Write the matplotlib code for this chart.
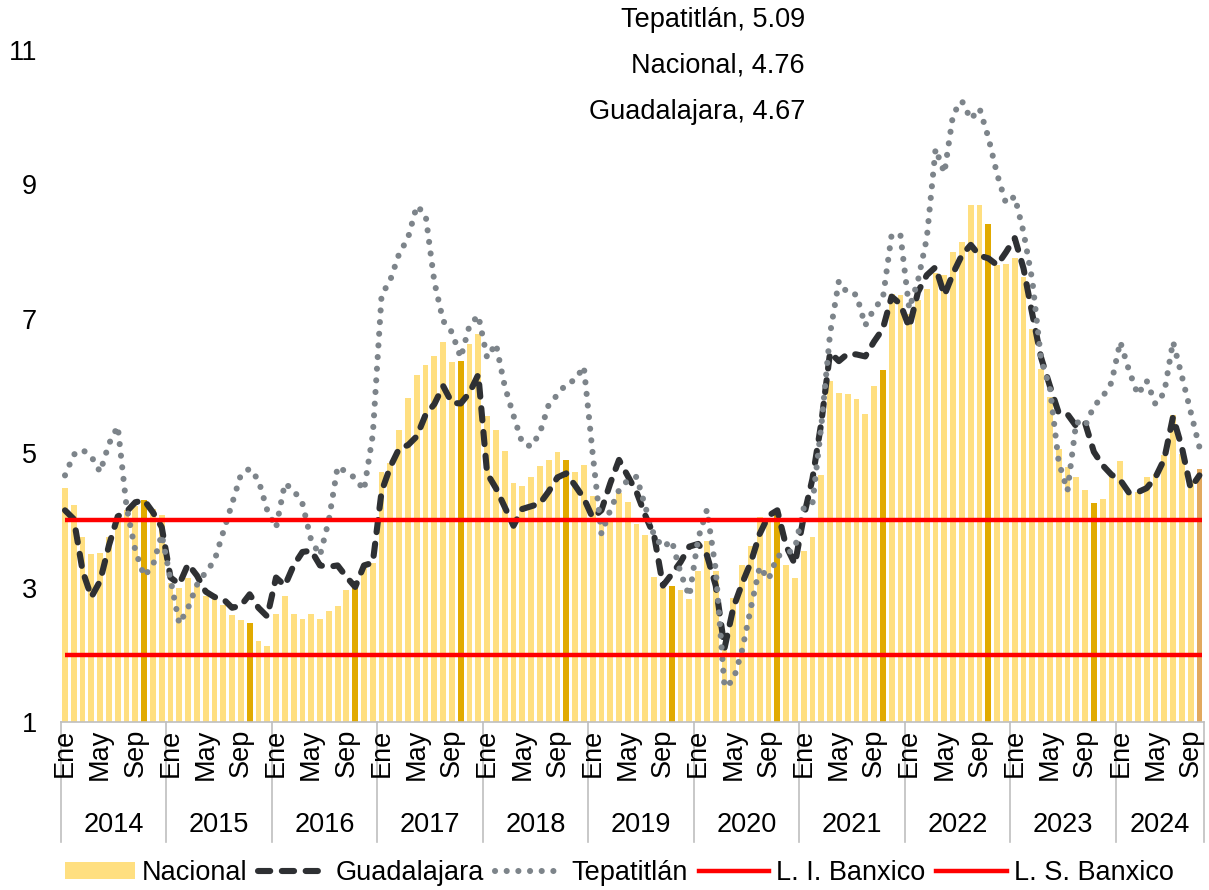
import matplotlib
matplotlib.use("Agg")
import matplotlib.pyplot as plt
from matplotlib.lines import Line2D
from matplotlib.patches import Patch
import numpy as np

plt.rcParams['font.family'] = ['Liberation Sans', 'DejaVu Sans']

years = ['2014', '2015', '2016', '2017', '2018', '2019', '2020', '2021', '2022', '2023', '2024']
month_labels = ['Ene', 'May', 'Sep']

nacional = [
    4.48, 4.23, 3.76, 3.50, 3.51, 3.75, 4.07, 4.15, 4.22, 4.30, 4.17, 4.08,
    3.07, 3.00, 3.14, 3.06, 2.88, 2.87, 2.74, 2.59, 2.52, 2.48, 2.21, 2.13,
    2.61, 2.87, 2.60, 2.54, 2.60, 2.54, 2.65, 2.73, 2.97, 3.06, 3.31, 3.36,
    4.72, 4.86, 5.35, 5.82, 6.16, 6.31, 6.44, 6.66, 6.35, 6.37, 6.63, 6.77,
    5.55, 5.34, 5.04, 4.55, 4.51, 4.65, 4.81, 4.90, 5.02, 4.90, 4.72, 4.83,
    4.37, 3.94, 4.00, 4.41, 4.28, 3.95, 3.78, 3.16, 3.00, 3.02, 2.97, 2.83,
    3.24, 3.70, 3.25, 2.15, 2.84, 3.33, 3.62, 4.05, 4.01, 4.09, 3.33, 3.15,
    3.54, 3.76, 4.67, 6.08, 5.89, 5.88, 5.81, 5.59, 6.00, 6.24, 7.37, 7.36,
    7.07, 7.28, 7.45, 7.68, 7.65, 7.99, 8.15, 8.70, 8.70, 8.41, 7.80, 7.82,
    7.91, 7.62, 6.85, 6.25, 5.84, 5.06, 4.79, 4.64, 4.45, 4.26, 4.32, 4.66,
    4.88, 4.40, 4.42, 4.65, 4.69, 4.98, 5.57, 4.99, 4.58, 4.76,
]

guadalajara = [
    4.15, 4.02, 3.25, 2.86, 3.10, 3.63, 4.06, 4.13, 4.27, 4.30, 4.12, 3.90,
    3.15, 3.05, 3.35, 3.18, 2.94, 2.86, 2.83, 2.70, 2.73, 2.90, 2.70, 2.57,
    3.15, 3.03, 3.33, 3.53, 3.55, 3.33, 3.31, 3.33, 3.16, 3.01, 3.33, 3.37,
    4.43, 4.80, 5.07, 5.12, 5.25, 5.57, 5.73, 6.00, 5.75, 5.74, 5.90, 6.17,
    4.70, 4.48, 4.20, 3.92, 4.17, 4.21, 4.25, 4.43, 4.64, 4.70, 4.52, 4.33,
    4.04, 4.15, 4.55, 4.90, 4.66, 4.42, 4.07, 3.77, 3.03, 3.20, 3.38, 3.61,
    3.65, 3.48, 3.03, 2.10, 2.70, 3.06, 3.38, 3.80, 4.07, 4.15, 3.62, 3.35,
    4.05, 4.62, 5.45, 6.50, 6.37, 6.48, 6.47, 6.44, 6.66, 6.85, 7.33, 7.22,
    6.87, 7.40, 7.65, 7.77, 7.35, 7.68, 7.95, 8.10, 7.94, 7.90, 7.80, 7.99,
    8.20, 7.75, 7.07, 6.42, 6.00, 5.60, 5.58, 5.40, 5.45, 5.02, 4.82, 4.68,
    4.60, 4.41, 4.42, 4.48, 4.64, 4.91, 5.54, 5.09, 4.48, 4.67,
]

tepatitlan = [
    4.67, 4.98, 5.05, 4.95, 4.72, 5.14, 5.40, 4.20, 3.55, 3.17, 3.33, 3.79,
    3.12, 2.46, 2.70, 3.04, 3.23, 3.40, 3.83, 4.25, 4.68, 4.77, 4.60, 4.15,
    3.89, 4.55, 4.45, 4.25, 3.70, 3.48, 4.00, 4.80, 4.72, 4.63, 4.45, 5.27,
    7.35, 7.58, 7.97, 8.20, 8.68, 8.55, 7.55, 6.97, 6.80, 6.42, 6.90, 7.05,
    6.42, 6.63, 6.00, 5.56, 5.15, 5.10, 5.30, 5.72, 5.87, 6.03, 6.09, 6.29,
    5.00, 3.80, 4.15, 4.45, 4.60, 4.65, 4.20, 3.77, 3.60, 3.70, 3.22, 2.87,
    3.73, 4.16, 3.27, 1.52, 1.62, 2.07, 2.70, 3.31, 3.12, 3.47, 3.50, 3.58,
    4.18, 4.25, 5.40, 6.78, 7.56, 7.38, 7.36, 6.90, 7.15, 7.30, 8.25, 8.25,
    7.15, 7.57, 8.20, 9.53, 9.17, 10.05, 10.24, 9.97, 10.13, 9.70, 9.15, 8.72,
    8.82, 8.29, 7.57, 6.39, 5.97, 4.87, 4.44, 5.47, 5.40, 5.70, 5.84, 6.05,
    6.66, 6.23, 5.87, 6.08, 5.73, 5.90, 6.66, 6.15, 5.62, 5.09,
]

li_banxico = 2.0
ls_banxico = 4.0
yticks = [1, 3, 5, 7, 9, 11]

labels_top = ['Tepatitlán, 5.09', 'Nacional, 4.76', 'Guadalajara, 4.67']

# ---------------- drawing ----------------
FS = 19.5
W, H = 1209, 890
fig = plt.figure(figsize=(W / 100, H / 100), dpi=100)
ax_left, ax_right = 60.6, 1203.8
ax_top, ax_bot = 50, 722
ax = fig.add_axes([ax_left / W, 1 - ax_bot / H, (ax_right - ax_left) / W, (ax_bot - ax_top) / H])

n = len(nacional)
x = np.arange(n)

light = '#FFDF80'
dark = '#E1AA00'
last = '#E2A95E'
colors = []
for i in range(n):
    if i == n - 1:
        colors.append(last)
    elif i % 12 == 9:
        colors.append(dark)
    else:
        colors.append(light)

ax.bar(x, np.array(nacional) - 1, bottom=1, width=0.66, color=colors, zorder=2)

g_style = (0, (2.0, 1.9))
t_style = (0, (0.01, 1.9))
ax.plot(x, guadalajara, color='#2E3033', lw=4.4, linestyle=g_style,
        dash_capstyle='round', solid_capstyle='round', zorder=4)
ax.plot(x, tepatitlan, color='#7D848A', lw=4.4, linestyle=t_style,
        dash_capstyle='round', zorder=5)
ax.plot([-0.05, n - 1 + 0.3], [li_banxico, li_banxico], color='#FF0000', lw=3.2, zorder=6,
        solid_capstyle='butt')
ax.plot([-0.05, n - 1 + 0.3], [ls_banxico, ls_banxico], color='#FF0000', lw=3.2, zorder=6,
        solid_capstyle='butt')

ax.set_xlim(-0.5, n - 0.5)
ax.set_ylim(1, 11)
ax.set_yticks(yticks)
ax.set_yticklabels([str(v) for v in yticks])
ax.tick_params(axis='y', length=0, pad=17, labelsize=FS)
ax.set_xticks([])
for s in ['left', 'right', 'top']:
    ax.spines[s].set_visible(False)
ax.spines['bottom'].set_color('#BFBFBF')
ax.spines['bottom'].set_linewidth(1.2)

trans = ax.get_xaxis_transform()
axh = ax_bot - ax_top
sep_bottom = -(842 - ax_bot) / axh
bounds = [-0.5 + 12 * k for k in range(len(years))] + [n - 0.5]
for b in bounds:
    ax.plot([b, b], [0, sep_bottom], transform=trans, color='#BFBFBF', lw=1.2, clip_on=False)

month_top = -(729 - ax_bot) / axh
year_y = -(825 - ax_bot) / axh
for yi, yr in enumerate(years):
    for mi, ml in zip([0, 4, 8], month_labels):
        idx = yi * 12 + mi
        if idx < n:
            ax.text(idx, month_top, ml, transform=trans, rotation=90, ha='center', va='top',
                    fontsize=FS)
    start = yi * 12
    end = min(start + 11, n - 1)
    ax.text((start + end) / 2, year_y, yr, transform=trans, ha='center', va='center', fontsize=FS)

for k, t in enumerate(labels_top):
    fig.text(805 / W, 1 - (20 + 46 * k) / H, t, ha='right', va='center', fontsize=FS)

handles = [
    Patch(facecolor=light, edgecolor='none'),
    Line2D([], [], color='#2E3033', lw=4.4, linestyle=g_style, dash_capstyle='round'),
    Line2D([], [], color='#7D848A', lw=4.4, linestyle=t_style, dash_capstyle='round'),
    Line2D([], [], color='#FF0000', lw=3.2),
    Line2D([], [], color='#FF0000', lw=3.2),
]
leg_labels = ['Nacional', 'Guadalajara', 'Tepatitlán', 'L. I. Banxico', 'L. S. Banxico']
fig.legend(handles, leg_labels, loc='center', bbox_to_anchor=(619 / W, 1 - 873 / H), ncol=5,
           frameon=False, fontsize=FS, handlelength=2.6, handleheight=0.6,
           columnspacing=0.4, handletextpad=0.25, borderpad=0.2)

fig.savefig('out.png', dpi=100)
